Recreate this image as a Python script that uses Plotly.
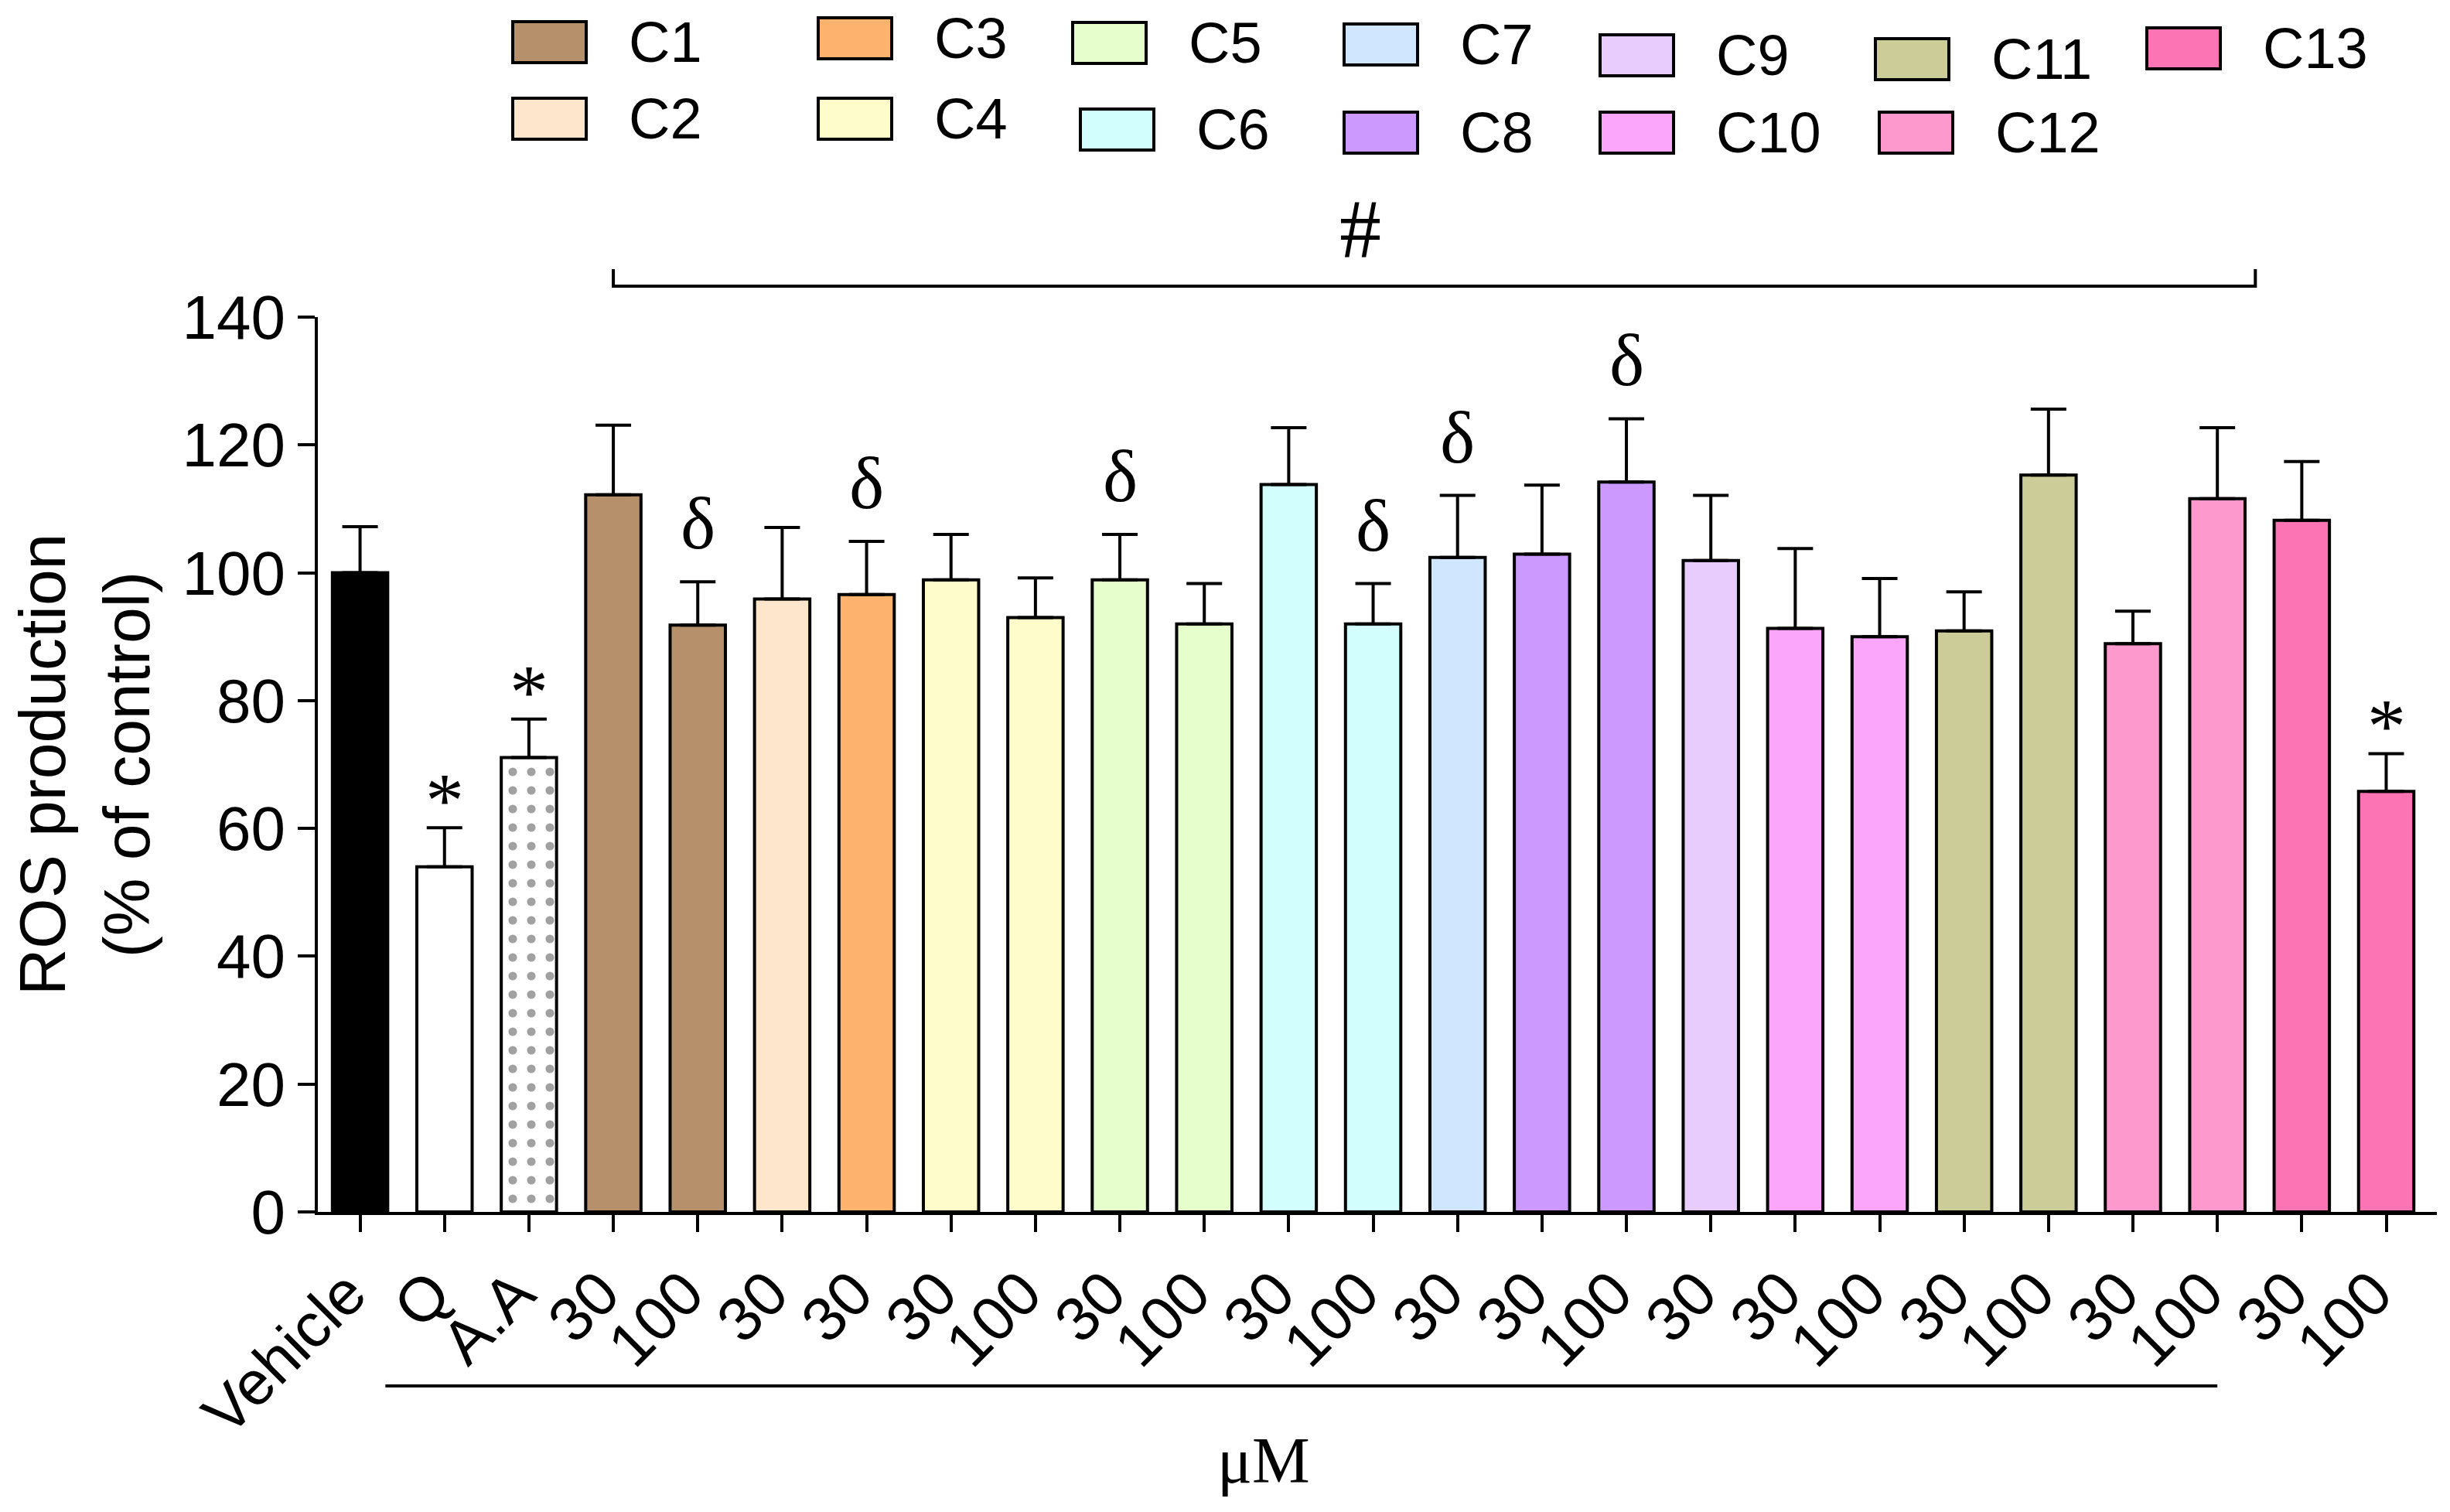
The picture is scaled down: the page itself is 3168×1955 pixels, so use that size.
import plotly.graph_objects as go

# bar data
labels = ["Vehicle", "Q", "A.A", "30", "100", "30", "30", "30", "100", "30", "100",
          "30", "100", "30", "30", "100", "30", "30", "100", "30", "100",
          "30", "100", "30", "100"]
groups = ["Vehicle", "Q", "A.A", "C1", "C1", "C2", "C3", "C4", "C4", "C5", "C5",
          "C6", "C6", "C7", "C8", "C8", "C9", "C10", "C10", "C11", "C11",
          "C12", "C12", "C13", "C13"]
means = [100.0, 54.0, 71.1, 112.2, 91.8, 95.9, 96.6, 98.9, 93.0, 98.9, 92.0,
         113.8, 92.0, 102.4, 102.9, 114.2, 101.9, 91.3, 90.0, 90.9, 115.3,
         88.9, 111.6, 108.2, 65.8]
sem = [7.2, 6.1, 6.0, 10.9, 6.8, 11.2, 8.3, 7.1, 6.2, 7.1, 6.3,
       8.9, 6.3, 9.7, 10.8, 9.9, 10.2, 12.5, 9.1, 6.1, 10.3,
       5.1, 11.1, 9.2, 5.9]
star_idx = [1, 2, 24]
delta_idx = [4, 6, 9, 12, 13, 15]

colors = {
    "Vehicle": "#000000", "Q": "#FFFFFF", "A.A": "#FFFFFF",
    "C1": "#B5906A", "C2": "#FEE6CC", "C3": "#FDB36E", "C4": "#FEFCCB",
    "C5": "#E6FDCC", "C6": "#D2FEFE", "C7": "#CFE6FE", "C8": "#CC99FE",
    "C9": "#E8CCFE", "C10": "#FBA6FB", "C11": "#CCCC99", "C12": "#FD99CC",
    "C13": "#FD74B4",
}
legend_names = ["C1", "C2", "C3", "C4", "C5", "C6", "C7",
                "C8", "C9", "C10", "C11", "C12", "C13"]

# page geometry (pixels)
W, H = 3168, 1955
ML, MR, MT, MB = 403, 25, 402, 396
SANS = "Liberation Sans, Arial, sans-serif"
SERIF = "Liberation Serif, Times New Roman, serif"

# legend box top-left corners in pixels (two staggered rows)
legend_xy = [(655, 20), (655, 119), (1050, 15), (1050, 119), (1379, 21), (1389, 133),
             (1730, 23), (1730, 137), (2061, 37), (2061, 137), (2417, 42), (2422, 137),
             (2768, 28)]
BOX_W, BOX_H = 95, 53


def px_x(px):
    return (px - ML) / (W - ML - MR)


def px_y(py):
    return (H - MB - py) / (H - MT - MB)


x = list(range(len(labels)))

fig = go.Figure()
fig.add_trace(go.Bar(
    x=x,
    y=means,
    marker=dict(
        color=[colors[g] for g in groups],
        line=dict(color="black", width=4),
        pattern=dict(shape=["." if g == "A.A" else "" for g in groups],
                     fgcolor="black", size=24, solidity=0.17),
    ),
    error_y=dict(type="data", symmetric=False, array=sem,
                 arrayminus=[0] * len(sem), color="black", thickness=4, width=23),
    showlegend=False,
))

annotations = []
for i in star_idx:
    annotations.append(dict(x=i, y=means[i] + sem[i], xref="x", yref="y",
                            text="*", showarrow=False, yanchor="bottom", yshift=-22,
                            font=dict(family=SERIF, size=100, color="black")))
for i in delta_idx:
    annotations.append(dict(x=i, y=means[i] + sem[i], xref="x", yref="y",
                            text="δ", showarrow=False, yanchor="bottom", yshift=20,
                            font=dict(family=SERIF, size=96, color="black")))

shapes = []
# "#" bracket over the compound bars
shapes.append(dict(type="path", xref="x", yref="paper",
                   path=f"M 3,{px_y(340)} L 3,{px_y(362)} L 22.45,{px_y(362)} L 22.45,{px_y(340)}",
                   line=dict(color="black", width=4)))
annotations.append(dict(x=11.85, y=px_y(288), xref="x", yref="paper", text="#",
                        showarrow=False, yanchor="middle",
                        font=dict(family=SERIF, size=108, color="black")))

# concentration line and unit
shapes.append(dict(type="line", xref="x", yref="paper", x0=0.3, x1=22.0,
                   y0=px_y(1784), y1=px_y(1784), line=dict(color="black", width=4)))
annotations.append(dict(x=10.7, y=px_y(1880), xref="x", yref="paper", text="μM",
                        showarrow=False, yanchor="middle",
                        font=dict(family=SERIF, size=84, color="black")))

# legend drawn as boxes + labels
for name, (bx, by) in zip(legend_names, legend_xy):
    shapes.append(dict(type="rect", xref="paper", yref="paper",
                       x0=px_x(bx), x1=px_x(bx + BOX_W),
                       y0=px_y(by), y1=px_y(by + BOX_H),
                       fillcolor=colors[name], line=dict(color="black", width=4)))
    annotations.append(dict(x=px_x(bx + 148), y=px_y(by + BOX_H / 2),
                            xref="paper", yref="paper", text=name, showarrow=False,
                            xanchor="left", yanchor="middle",
                            font=dict(family=SANS, size=74, color="black")))

fig.update_layout(
    width=W, height=H,
    margin=dict(l=ML, r=MR, t=MT, b=MB),
    paper_bgcolor="white", plot_bgcolor="white",
    bargap=0.345,
    font=dict(family=SANS, color="black"),
    shapes=shapes,
    annotations=annotations,
)
fig.update_xaxes(
    range=[-0.5, 24.6], tickvals=x, ticktext=labels, tickangle=-45,
    showline=True, linecolor="black", linewidth=4,
    ticks="outside", ticklen=22, tickwidth=4, tickcolor="black",
    tickfont=dict(family=SANS, size=80, color="black"),
    ticklabelshift=-16,
    showgrid=False, zeroline=False,
)
fig.update_yaxes(
    range=[0, 140], dtick=20, tick0=0,
    showline=True, linecolor="black", linewidth=4,
    ticks="outside", ticklen=22, tickwidth=4, tickcolor="black",
    tickfont=dict(family=SANS, size=80, color="black"),
    showgrid=False, zeroline=False,
    title=dict(text="ROS production<br>(% of control)", standoff=30,
               font=dict(family=SANS, size=84, color="black")),
)

fig.write_html("out.html")
